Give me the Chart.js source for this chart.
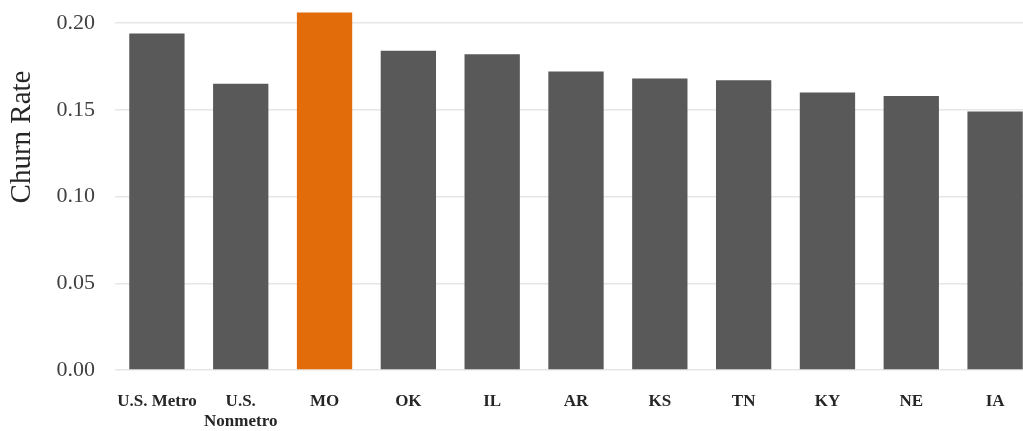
<!DOCTYPE html>
<html>
<head>
<meta charset="utf-8">
<script src="https://cdn.jsdelivr.net/npm/chart.js@4"></script>
<style>
  html, body { margin: 0; padding: 0; background: #fff; overflow: hidden; }
  #wrap { width: 1037px; height: 462px; margin-top: -31px; position: relative; }
</style>
</head>
<body>
<div id="wrap"><canvas id="c"></canvas></div>
<script>
const categories = ['U.S. Metro', ['U.S.', 'Nonmetro'], 'MO', 'OK', 'IL', 'AR', 'KS', 'TN', 'KY', 'NE', 'IA'];
const churnRate = [0.194, 0.165, 0.206, 0.184, 0.182, 0.172, 0.168, 0.167, 0.160, 0.158, 0.149];
const barColors = ['#595959', '#595959', '#E36C0A', '#595959', '#595959', '#595959', '#595959', '#595959', '#595959', '#595959', '#595959'];
const yTicks = [0, 0.05, 0.10, 0.15, 0.20];
const yTitle = 'Churn Rate';

const yTitlePlugin = {
  id: 'yTitle',
  afterDraw(chart) {
    const ctx = chart.ctx;
    ctx.save();
    ctx.translate(22, 31 + 137);
    ctx.rotate(-Math.PI / 2);
    ctx.font = '29px "Liberation Serif"';
    ctx.fillStyle = '#262626';
    ctx.textAlign = 'center';
    ctx.textBaseline = 'middle';
    ctx.fillText(yTitle, 0, 0);
    ctx.restore();
  }
};

new Chart(document.getElementById('c'), {
  type: 'bar',
  data: {
    labels: categories,
    datasets: [{
      data: churnRate,
      backgroundColor: barColors,
      borderWidth: 0,
      categoryPercentage: 1,
      barPercentage: 0.66
    }]
  },
  plugins: [yTitlePlugin],
  options: {
    responsive: true,
    maintainAspectRatio: false,
    animation: false,
    layout: { padding: 0 },
    plugins: { legend: { display: false }, tooltip: { enabled: false } },
    scales: {
      x: {
        grid: { display: false, drawTicks: false },
        border: { display: false },
        ticks: {
          color: '#262626',
          font: { family: 'Liberation Serif', size: 17, weight: 'bold', lineHeight: 1.2 },
          padding: 21,
          maxRotation: 0,
          autoSkip: false
        },
        afterFit: (s) => { s.height = 61; }
      },
      y: {
        min: 0,
        max: 0.212,
        afterBuildTicks: (s) => { s.ticks = yTicks.map(v => ({ value: v })); },
        grid: { color: '#e6e6e6', lineWidth: 1.5, drawTicks: false },
        border: { display: false },
        ticks: {
          color: '#404040',
          font: { family: 'Liberation Serif', size: 22 },
          padding: 20,
          callback: (v) => Number(v).toFixed(2)
        },
        afterFit: (s) => { s.width = 115; }
      }
    }
  }
});
</script>
</body>
</html>
